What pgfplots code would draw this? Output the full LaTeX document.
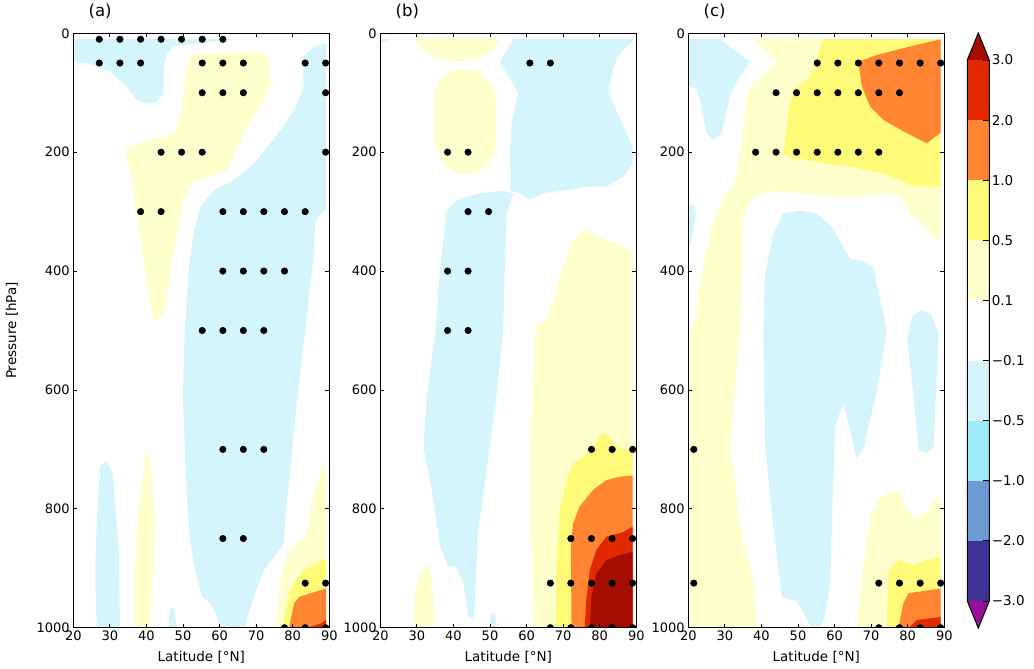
\documentclass[border=0pt]{standalone}
\usepackage{pgfplots}
\pgfplotsset{compat=1.18}
\usepackage{fontspec}
\setmainfont{DejaVu Sans}
\definecolor{pcyan}{HTML}{D5F5FC}
\definecolor{mcyan}{HTML}{9EEBFC}
\definecolor{mblue}{HTML}{6B9BD2}
\definecolor{dblue}{HTML}{3F3296}
\definecolor{purp}{HTML}{9A0F9A}
\definecolor{pyel}{HTML}{FFFFCC}
\definecolor{myel}{HTML}{FFFA78}
\definecolor{morange}{HTML}{FF8533}
\definecolor{mred}{HTML}{E12800}
\definecolor{dred}{HTML}{A50D00}
\pgfplotsset{
  panel/.style={
    scale only axis, width=256pt, height=594.4pt, anchor=south west,
    xmin=20, xmax=90, ymin=0, ymax=1000, y dir=reverse,
    xtick={20,30,...,90}, ytick={0,200,...,1000},
    axis on top, clip marker paths=true,
    tick align=inside, major tick length=4pt,
    axis line style={line width=0.9pt, black},
    every tick/.style={black, line width=0.8pt},
    /pgf/number format/assume math mode=true,
    /pgf/number format/1000 sep={},
    scaled ticks=false,
    tick label style={font=\fontsize{13}{13}\selectfont, black},
    title style={at={(axis description cs:0.046,1)}, anchor=base west, yshift=11pt, font=\fontsize{16.5}{16.5}\selectfont},
    xlabel={Latitude [°N]},
    xlabel style={at={(axis description cs:0.5,-0.049)}, anchor=center, font=\fontsize{13.5}{13.5}\selectfont},
    ylabel style={at={(axis description cs:-0.24,0.5)}, anchor=center, font=\fontsize{13.5}{13.5}\selectfont},
  },
  dots/.style={only marks, mark=*, mark size=3.3pt, black},
}
\begin{document}
\begin{tikzpicture}
\useasboundingbox (0pt,0pt) rectangle (1034pt,669pt);
% ---------------- panel (a)
\begin{axis}[panel, at={(73.3pt,41.3pt)}, title={(a)}, ylabel={Pressure [hPa]}]
\addplot[fill=pcyan, draw=none] coordinates {(20,10) (63.9,10) (47.4,22) (45.6,34) (44.7,56) (44.7,101) (42.9,115) (40.1,119) (37.4,112) (34.6,90) (30.1,64) (23.7,50) (20,48)};
\addplot[fill=pyel, draw=none] coordinates {(51.6,48) (52.9,34) (58.4,34) (63.9,31) (72.2,32) (73.5,42) (73.8,92) (72.2,112) (67.6,157) (64.8,196) (62.1,230) (58.4,238) (52.9,250) (50.2,280) (47.4,370) (44.7,471) (42.0,488) (40.1,415) (37.4,303) (35.6,236) (34.2,202) (34.6,193) (39.2,182) (44.7,174) (47.4,168) (48.4,157) (49.7,118) (50.6,73)};
\addplot[fill=pcyan, draw=none] coordinates {(82.7,39) (82.7,95) (80.4,129) (76.7,163) (73.1,191) (69.4,219) (63.9,247) (58.4,264) (54.8,292) (52.9,337) (51.6,393) (50.4,510) (50,611) (50.6,723) (51.6,836) (52.9,892) (55.2,948) (57.5,959) (59.3,981) (59.8,1000) (67.1,1000) (67.6,981) (69.4,948) (72.2,903) (74.9,880) (77.6,858) (78.1,808) (79.5,723) (81.3,611) (83.3,505) (85.4,393) (86.3,314) (87.7,303) (89.1,297) (89.1,16) (85.9,22) };
\addplot[fill=pcyan, draw=none] coordinates {(26.4,1000) (26,920) (26.2,850) (27.3,729) (29,719) (30.8,740) (31.5,800) (32.4,860) (32.8,1000)};
\addplot[fill=pyel, draw=none] coordinates {(36.5,1000) (37,864) (38.3,780) (40.1,698) (41.5,746) (42.4,836) (41.5,931) (41.0,1000)};
\addplot[fill=pcyan, draw=none] coordinates {(46.1,1000) (46.3,970) (47.3,964) (48.4,1000)};
\addplot[fill=pyel, draw=none] coordinates {(75.4,1000) (76.7,914) (78.6,875) (81.3,858) (83.6,847) (85.4,780) (89.1,712) (89.1,1000)};
\addplot[fill=myel, draw=none] coordinates {(77.2,1000) (79,942) (80.4,925) (83.1,903) (89.1,883) (89.1,1000)};
\addplot[fill=morange, draw=none] coordinates {(79,1000) (80.4,959) (81.8,948) (89.1,934) (89.1,1000)};
\addplot[fill=mred, draw=none] coordinates {(84,1000) (87.7,993) (89.1,987) (89.1,1000)};
\addplot[dots] coordinates {
(27.1,10) (32.75,10) (38.4,10) (44.0,10) (49.6,10) (55.25,10) (60.9,10)
(27.1,50) (32.75,50) (38.4,50) (55.25,50) (60.9,50) (66.5,50) (83.4,50) (89.0,50)
(55.25,100) (60.9,100) (66.5,100) (89.0,100)
(44.0,200) (49.6,200) (55.25,200) (89.0,200)
(38.4,300) (44.0,300) (60.9,300) (66.5,300) (72.1,300) (77.75,300) (83.4,300)
(60.9,400) (66.5,400) (72.1,400) (77.75,400)
(55.25,500) (60.9,500) (66.5,500) (72.1,500)
(60.9,700) (66.5,700) (72.1,700)
(60.9,850) (66.5,850)
(83.4,925) (89.0,925)
(77.75,1000) (83.4,1000) (89.0,1000)};
\end{axis}
% ---------------- panel (b)
\begin{axis}[panel, at={(380.3pt,41.3pt)}, title={(b)}]
\addplot[fill=pcyan, draw=none] coordinates {(20,10) (22.7,10) (20,17)};
\addplot[fill=pyel, draw=none] coordinates {(29.1,10) (52.7,10) (50.9,28) (47.3,42) (41.8,48) (35.5,42) (30.9,25) (29.5,14)};
\addplot[fill=pyel, draw=none] coordinates {(42.7,60) (47.3,64.5) (50.9,90) (51.8,118) (51.4,202) (49.1,224) (45.5,236) (40.9,236) (37.3,219) (35,191) (35,95) (36.4,78.5) (39.1,64.5)};
\addplot[fill=pcyan, draw=none] coordinates {(56.4,10) (89,10) (89,14) (86,30) (84.5,45) (83.6,62) (82.3,98) (85,135) (87.3,168) (89,191) (89,219) (86.4,241) (81.8,258) (76.4,258) (70.9,264) (64.5,269) (60.9,280) (58.2,269) (55.6,266) (55.5,196) (55.9,151) (57.3,112) (57.7,101) (52.7,48)};
\addplot[fill=pcyan, draw=none] coordinates {(38.2,297) (40.9,280) (47.3,269) (53.6,265) (56.4,269) (54.5,303) (53.6,499) (51.8,611) (49.1,735) (46.8,836) (45.9,948) (45.5,987) (44.1,981) (42.7,925) (40.5,897) (38.6,897) (36.4,864) (33.6,752) (31.8,696) (32.7,611) (35,505) (36.4,393)};
\addplot[fill=pcyan, draw=none] coordinates {(49.8,1000) (50.2,978) (51.4,976) (51.8,1000)};
\addplot[fill=pyel, draw=none] coordinates {(29.1,1000) (29.5,937) (30.9,909) (32.7,892) (34.1,914) (35,1000)};
\addplot[fill=pyel, draw=none] coordinates {(75.5,328) (78.2,336) (81.8,348) (86.4,356) (89,370) (89,1000) (61.8,1000) (61.4,892) (61.1,780) (61.4,611) (62.3,505) (62.7,491) (65.5,482) (67.3,449) (70,393) (72.7,348)};
\addplot[fill=myel, draw=none] coordinates {(79.5,679) (80.9,673) (82.7,679) (84.1,693) (86.4,698) (89,704) (89,1000) (68,1000) (68.2,892) (69.1,802) (70.9,752) (72.7,724) (78.2,701)};
\addplot[fill=morange, draw=none] coordinates {(89,744) (85.5,746) (81.8,752) (78.2,768) (74.5,796) (72.7,825) (72.1,864) (72.3,1000) (89,1000)};
\addplot[fill=mred, draw=none] coordinates {(89,830) (86.4,839) (81.8,847) (79.1,869) (77.3,903) (76.4,948) (75.9,1000) (89,1000)};
\addplot[fill=dred, draw=none] coordinates {(89,872) (85.5,878) (81.8,886) (79.1,909) (77.7,948) (77.3,1000) (89,1000)};
\addplot[dots] coordinates {
(60.9,50) (66.5,50)
(38.4,200) (44.0,200)
(44.0,300) (49.6,300)
(38.4,400) (44.0,400)
(38.4,500) (44.0,500)
(77.75,700) (83.4,700) (89.0,700)
(72.1,850) (77.75,850) (83.4,850) (89.0,850)
(66.5,925) (72.1,925) (77.75,925) (83.4,925) (89.0,925)
(66.5,1000) (72.1,1000) (77.75,1000) (83.4,1000) (89.0,1000)};
\end{axis}
% ---------------- panel (c)
\begin{axis}[panel, at={(688.3pt,41.3pt)}, title={(c)}]
\addplot[fill=pcyan, draw=none] coordinates {(20,10) (28.7,10) (36.9,48) (34.1,73) (31.4,106) (29.1,168) (26.8,179) (25,168) (23.2,112) (22.3,95) (20,87)};
\addplot[fill=pcyan, draw=none] coordinates {(20,292) (21.4,286) (22.1,303) (20.9,348) (20,359)};
\addplot[fill=pyel, draw=none] coordinates {(37.8,10) (89,10) (89,353) (86.2,336) (80.7,303) (78,275) (73.4,269) (67.9,275) (60.6,275) (50.6,269) (43.3,266) (39.6,269) (36.4,286) (35.1,314) (34.6,393) (34.1,505) (31.9,667) (31.4,701) (32.8,752) (33.7,813) (35.1,858) (36.9,892) (38.2,937) (38.7,1000) (20,1000) (20,516) (21.8,477) (24.1,393) (26.8,314) (29.1,280) (32.8,252) (33.7,213) (36.4,95) (39.6,76) (44,48)};
\addplot[fill=myel, draw=none] coordinates {(57,10) (89,10) (89,258) (82.5,258) (78.8,250) (73.4,236) (64.3,224) (57,219) (52.4,213) (48.7,210) (46,202) (46.5,179) (47.4,129) (48.7,95) (53.3,73) (55.6,34)};
\addplot[fill=morange, draw=none] coordinates {(66.5,48) (71.6,36.5) (78.8,25) (89,10) (89,167) (85.2,185) (79.8,168) (73.4,146) (69.7,123) (67.5,90)};
\addplot[fill=pcyan, draw=none] coordinates {(46,303) (50.6,298) (55.1,303) (59.2,325) (64.2,379) (67.9,384) (70.6,393) (72,437) (74.3,499) (71.6,600) (67.9,698) (66,715) (64.2,667) (62.4,625) (61,645) (60.1,667) (59.5,780) (58.8,925) (57.4,981) (56,1000) (53.5,1000) (52.6,987) (49.6,955) (47.8,953) (45.6,948) (43.3,836) (41,695) (40.5,499) (41,404) (43.3,336)};
\addplot[fill=pcyan, draw=none] coordinates {(79.8,516) (81.1,477) (83.4,466) (86.2,471) (88.4,505) (87.1,695) (85.3,707) (83,701) (81.6,611)};
\addplot[fill=pyel, draw=none] coordinates {(66.1,1000) (67.9,892) (69.8,808) (72.5,780) (77,769) (81.6,819) (85.2,802) (89,774) (89,1000)};
\addplot[fill=myel, draw=none] coordinates {(74.3,1000) (74.7,903) (77.5,886) (81.6,895) (85.2,886) (89,881) (89,1000)};
\addplot[fill=morange, draw=none] coordinates {(77.5,1000) (78.8,959) (80.2,942) (89,934) (89,1000)};
\addplot[fill=mred, draw=none] coordinates {(80.3,1000) (82.5,987) (89,982) (89,1000)};
\addplot[dots] coordinates {
(55.25,50) (60.9,50) (66.5,50) (72.1,50) (77.75,50) (83.4,50) (89.0,50)
(44.0,100) (49.6,100) (55.25,100) (60.9,100) (66.5,100) (72.1,100) (77.75,100)
(38.4,200) (44.0,200) (49.6,200) (55.25,200) (60.9,200) (66.5,200) (72.1,200)
(21.5,700)
(21.5,925) (72.1,925) (77.75,925) (83.4,925) (89.0,925)
(72.1,1000) (77.75,1000) (83.4,1000) (89.0,1000)};
\end{axis}
% ---------------- colorbar
\begin{axis}[at={(967.3pt,68pt)}, anchor=south west, scale only axis, width=22pt, height=541pt,
  xmin=0, xmax=1, ymin=0, ymax=9, clip=false, axis on top,
  axis line style={draw=none}, xtick=\empty,
  ytick={0,1,...,9}, yticklabels={−3.0,−2.0,−1.0,−0.5,−0.1,0.1,0.5,1.0,2.0,3.0},
  ytick pos=right, tick align=inside, major tick length=6pt,
  every tick/.style={black, line width=0.8pt},
  yticklabel style={font=\fontsize{13.5}{13.5}\selectfont, black, xshift=-1pt}]
\addplot[fill=purp, draw=none] coordinates {(0,0) (1,0) (0.5,-0.45)};
\addplot[fill=dblue, draw=none] coordinates {(0,0) (1,0) (1,1) (0,1)};
\addplot[fill=mblue, draw=none] coordinates {(0,1) (1,1) (1,2) (0,2)};
\addplot[fill=mcyan, draw=none] coordinates {(0,2) (1,2) (1,3) (0,3)};
\addplot[fill=pcyan, draw=none] coordinates {(0,3) (1,3) (1,4) (0,4)};
\addplot[fill=white, draw=none] coordinates {(0,4) (1,4) (1,5) (0,5)};
\addplot[fill=pyel, draw=none] coordinates {(0,5) (1,5) (1,6) (0,6)};
\addplot[fill=myel, draw=none] coordinates {(0,6) (1,6) (1,7) (0,7)};
\addplot[fill=morange, draw=none] coordinates {(0,7) (1,7) (1,8) (0,8)};
\addplot[fill=mred, draw=none] coordinates {(0,8) (1,8) (1,9) (0,9)};
\addplot[fill=dred, draw=none] coordinates {(0,9) (1,9) (0.5,9.45)};
\addplot[draw=black, line width=1pt, fill=none] coordinates {(0,0) (0,9) (0.5,9.45) (1,9) (1,0) (0.5,-0.45) (0,0)} -- cycle;
\end{axis}
\end{tikzpicture}
\end{document}
